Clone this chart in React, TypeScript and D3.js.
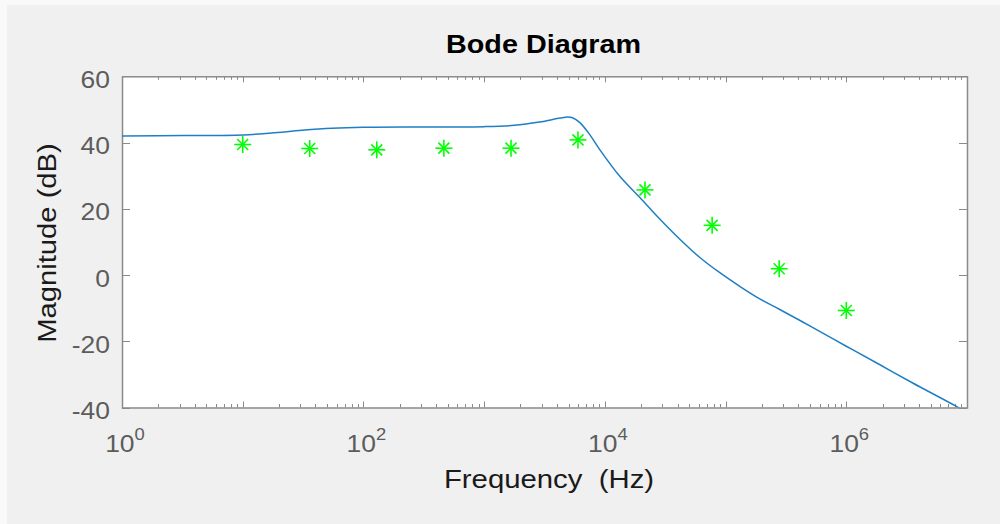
import React, { useEffect, useRef } from "react";
import * as d3 from "d3";

// bode magnitude curve
const curveFreq = [1, 3.2, 10, 17.4, 31, 55, 100, 316, 1000, 1780, 2880, 4270, 4900, 5400, 6210, 7520, 9100, 13300, 19500, 28500, 41800, 61200, 89600, 131000, 192000, 281000, 389000, 525000, 1000000, 1900000, 3550000, 8100000, 10000000];
const curveMag = [42.0, 42.1, 42.3, 42.9, 43.7, 44.3, 44.6, 44.7, 44.8, 45.2, 46.2, 47.4, 47.7, 47.5, 46.0, 42.3, 37.8, 29.8, 23.4, 16.9, 10.8, 5.3, 0.7, -3.4, -7.2, -10.4, -13.2, -15.8, -21.5, -27.1, -32.6, -39.6, -41.6];

// measured points (green asterisks)
const measFreq = [10, 35.9, 129, 464, 1670, 5990, 21500, 77400, 278000, 1000000];
const measMag = [39.4, 38.2, 37.8, 38.3, 38.3, 40.8, 25.7, 15.0, 1.9, -10.7];

const yTicks = [60, 40, 20, 0, -20, -40];
const xTickExp = [0, 2, 4, 6];

const BodeChart: React.FC = () => {
  const svgRef = useRef<SVGSVGElement>(null);

  useEffect(() => {
    if (!svgRef.current) return;
    const svg = d3.select(svgRef.current);
    svg.selectAll("*").remove();

    const width = 1000;
    const height = 524;
    const left = 122, right = 967, top = 76.3, bottom = 407.5;
    const font = "'Liberation Sans', Arial, sans-serif";
    const stretch = 1.15;
    const axisColor = "#8a8a8a";
    const tickText = "#5c5c5c";

    svg.append("rect").attr("width", width).attr("height", height).attr("fill", "#f9f9f9");
    svg.append("rect").attr("x", 7).attr("y", 5).attr("width", width - 7).attr("height", height - 5).attr("fill", "#f0f0f0");

    const x = d3.scaleLog().domain([1, 1e7]).range([left, right]);
    const y = d3.scaleLinear().domain([-40, 60]).range([bottom, top]);

    svg.append("rect")
      .attr("x", left).attr("y", top)
      .attr("width", right - left).attr("height", bottom - top)
      .attr("fill", "#fff");

    const defs = svg.append("defs");
    defs.append("clipPath").attr("id", "plotClip")
      .append("rect")
      .attr("x", left).attr("y", top)
      .attr("width", right - left).attr("height", bottom - top);

    // log ticks, top and bottom, pointing inward
    const ticks = svg.append("g").attr("stroke", axisColor).attr("stroke-width", 1);
    for (let e = 0; e < 7; e++) {
      for (let m = 1; m <= 9; m++) {
        const v = m * Math.pow(10, e);
        const px = Math.round(x(v)) + 0.5;
        const len = m === 1 ? 6 : 3.5;
        ticks.append("line").attr("x1", px).attr("x2", px).attr("y1", bottom).attr("y2", bottom - len);
        ticks.append("line").attr("x1", px).attr("x2", px).attr("y1", top).attr("y2", top + len);
      }
    }
    yTicks.forEach(t => {
      const py = Math.round(y(t)) + 0.5;
      ticks.append("line").attr("x1", left).attr("x2", left + 8).attr("y1", py).attr("y2", py);
      ticks.append("line").attr("x1", right).attr("x2", right - 8).attr("y1", py).attr("y2", py);
    });

    // box
    svg.append("rect")
      .attr("x", left + 0.5).attr("y", top + 0.5)
      .attr("width", right - left).attr("height", bottom - top)
      .attr("fill", "none").attr("stroke", axisColor).attr("stroke-width", 1.5);

    // y tick labels
    yTicks.forEach(t => {
      svg.append("g")
        .attr("transform", `translate(110,${y(t) + 11.5}) scale(${stretch},1)`)
        .append("text")
        .attr("text-anchor", "end")
        .attr("font-family", font).attr("font-size", 23)
        .attr("fill", tickText)
        .text(t);
    });

    // x tick labels 10^n
    xTickExp.forEach(e => {
      const txt = svg.append("g")
        .attr("transform", `translate(${x(Math.pow(10, e)) + 3},452) scale(${stretch},1)`)
        .append("text")
        .attr("text-anchor", "middle")
        .attr("font-family", font).attr("font-size", 23)
        .attr("fill", tickText);
      txt.append("tspan").text("10");
      txt.append("tspan").attr("dy", -12).attr("font-size", 16).text(String(e));
    });

    // title and axis labels
    svg.append("g")
      .attr("transform", `translate(${(left + right) / 2 - 1},53) scale(${stretch},1)`)
      .append("text")
      .attr("text-anchor", "middle")
      .attr("font-family", font).attr("font-size", 25).attr("font-weight", "bold")
      .attr("fill", "#000")
      .text("Bode Diagram");

    svg.append("g")
      .attr("transform", `translate(549,488) scale(${stretch},1)`)
      .append("text")
      .attr("text-anchor", "middle")
      .attr("font-family", font).attr("font-size", 25.5)
      .attr("fill", "#1a1a1a")
      .style("white-space", "pre")
      .text("Frequency  (Hz)");

    svg.append("g")
      .attr("transform", `translate(56,243) rotate(-90) scale(${stretch},1)`)
      .append("text")
      .attr("text-anchor", "middle")
      .attr("font-family", font).attr("font-size", 25.4)
      .attr("fill", "#1a1a1a")
      .text("Magnitude (dB)");

    // magnitude curve
    const line = d3.line<number>()
      .x((_, i) => x(curveFreq[i]))
      .y(d => y(d))
      .curve(d3.curveCatmullRom.alpha(0.5));

    svg.append("path")
      .datum(curveMag)
      .attr("clip-path", "url(#plotClip)")
      .attr("d", line)
      .attr("fill", "none")
      .attr("stroke", "#1f7fc4")
      .attr("stroke-width", 1.5);

    // asterisk markers
    const marks = svg.append("g").attr("stroke", "#00ff00").attr("stroke-width", 1.6);
    measMag.forEach((m, i) => {
      const cx = x(measFreq[i]);
      const cy = y(m);
      const r = 8.5, d = 5.5;
      marks.append("line").attr("x1", cx - r).attr("x2", cx + r).attr("y1", cy).attr("y2", cy);
      marks.append("line").attr("x1", cx).attr("x2", cx).attr("y1", cy - r).attr("y2", cy + r);
      marks.append("line").attr("x1", cx - d).attr("x2", cx + d).attr("y1", cy - d).attr("y2", cy + d);
      marks.append("line").attr("x1", cx - d).attr("x2", cx + d).attr("y1", cy + d).attr("y2", cy - d);
    });
  }, []);

  return (
    <svg
      ref={svgRef}
      width={1000}
      height={524}
      style={{ position: "absolute", left: 0, top: 0, display: "block" }}
    />
  );
};

export default function App() {
  return <BodeChart />;
}
